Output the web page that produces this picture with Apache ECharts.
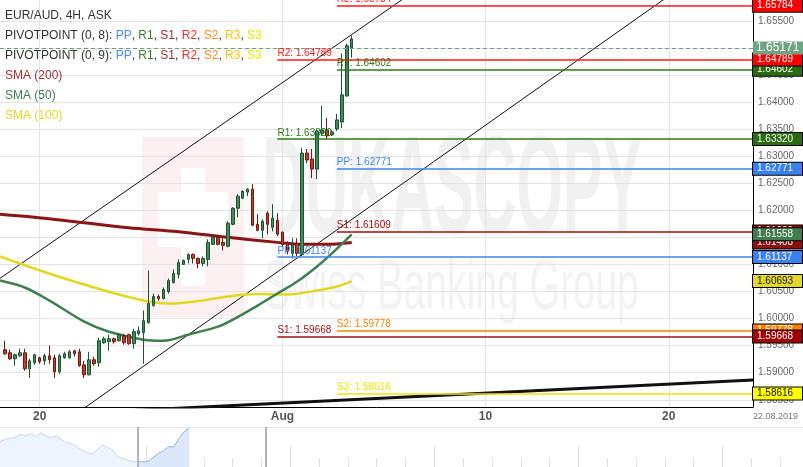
<!DOCTYPE html>
<html>
<head>
<meta charset="utf-8">
<title>EUR/AUD, 4H</title>
<script src="https://cdn.jsdelivr.net/npm/echarts@6.0.0/dist/echarts.min.js"></script>
<style>
html, body { margin: 0; padding: 0; background: #fff; }
#chart { width: 803px; height: 467px; }
</style>
</head>
<body>
<div id="chart"></div>
<script>
let fontFamily = '"Liberation Sans", Arial, sans-serif';

// 4H candles, [open, close, low, high]; first candle sits in slot 1
let candles = [
    [1.59424, 1.59350, 1.59332, 1.59591], [1.59369, 1.59257, 1.59239, 1.59424],
    [1.59257, 1.59332, 1.59128, 1.59350], [1.59313, 1.59369, 1.59295, 1.59443],
    [1.59369, 1.59072, 1.59035, 1.59443], [1.59072, 1.59220, 1.58905, 1.59257],
    [1.59183, 1.59332, 1.59146, 1.59350], [1.59276, 1.59202, 1.59165, 1.59295],
    [1.59220, 1.59313, 1.59146, 1.59350], [1.59313, 1.59239, 1.59165, 1.59499],
    [1.59276, 1.59016, 1.58905, 1.59332], [1.59016, 1.59313, 1.58979, 1.59350],
    [1.59276, 1.59350, 1.59257, 1.59387], [1.59276, 1.59387, 1.59257, 1.59424],
    [1.59406, 1.59350, 1.59295, 1.59424], [1.59387, 1.59128, 1.59109, 1.59443],
    [1.59146, 1.58961, 1.58905, 1.59220], [1.58961, 1.59239, 1.58950, 1.59387],
    [1.59239, 1.59165, 1.59128, 1.59295], [1.59183, 1.59591, 1.59109, 1.59647],
    [1.59554, 1.59628, 1.59536, 1.59666], [1.59573, 1.59628, 1.59406, 1.59703],
    [1.59628, 1.59573, 1.59536, 1.59647], [1.59591, 1.59703, 1.59573, 1.59721],
    [1.59684, 1.59554, 1.59517, 1.59721], [1.59703, 1.59536, 1.59517, 1.59721],
    [1.59536, 1.59758, 1.59443, 1.59814], [1.59721, 1.59777, 1.59684, 1.59851],
    [1.59740, 1.59962, 1.59165, 1.60148], [1.59925, 1.60278, 1.59907, 1.60890],
    [1.60241, 1.60408, 1.60222, 1.60463], [1.60408, 1.60370, 1.60333, 1.60445],
    [1.60370, 1.60537, 1.60352, 1.60575], [1.60500, 1.60704, 1.60463, 1.60742],
    [1.60667, 1.60834, 1.60649, 1.60908], [1.60816, 1.61038, 1.60742, 1.61094],
    [1.61001, 1.61075, 1.60990, 1.61094], [1.61094, 1.61187, 1.61020, 1.61205],
    [1.61187, 1.61113, 1.61020, 1.61205], [1.61113, 1.61020, 1.60927, 1.61131],
    [1.61020, 1.61113, 1.60964, 1.61150], [1.61094, 1.61409, 1.60964, 1.61465],
    [1.61372, 1.61502, 1.61360, 1.61558], [1.61502, 1.61372, 1.61354, 1.61539],
    [1.61409, 1.61354, 1.61261, 1.61484], [1.61335, 1.61762, 1.61317, 1.61799],
    [1.61743, 1.62040, 1.61725, 1.62059], [1.62040, 1.62263, 1.61873, 1.62300],
    [1.62226, 1.62355, 1.62207, 1.62374], [1.62337, 1.62393, 1.62263, 1.62411],
    [1.62393, 1.61725, 1.61706, 1.62485], [1.61743, 1.61632, 1.61613, 1.61929],
    [1.61632, 1.61799, 1.61484, 1.61836], [1.61947, 1.61743, 1.61558, 1.61984],
    [1.61688, 1.61855, 1.61613, 1.62114], [1.61817, 1.61558, 1.61521, 1.61947],
    [1.61595, 1.61372, 1.61335, 1.61613], [1.61391, 1.61242, 1.61187, 1.61428],
    [1.61205, 1.61372, 1.61113, 1.61484], [1.61391, 1.61205, 1.61150, 1.61484],
    [1.61187, 1.63060, 1.61150, 1.63153], [1.63060, 1.62931, 1.62875, 1.63135],
    [1.62949, 1.62764, 1.62597, 1.63135], [1.62764, 1.63468, 1.62578, 1.63506],
    [1.63431, 1.63487, 1.63376, 1.63932], [1.63487, 1.63376, 1.63320, 1.63710],
    [1.63394, 1.63450, 1.63376, 1.63487], [1.63506, 1.63673, 1.63468, 1.63784],
    [1.63635, 1.64136, 1.63524, 1.64897], [1.64118, 1.65045, 1.64099, 1.65082],
    [1.65008, 1.65171, 1.64823, 1.65231]
];
let firstSlot = 1;
let slotCount = 153; // 4H slots on screen, the empty future part included
let lastSlot = slotCount - 1;
let lastPrice = 1.65171;

let xTickSlots = [8, 57, 98, 135];
let xTickLabels = ['20', 'Aug', '10', '20'];
let yTicks = [1.585, 1.59, 1.595, 1.6, 1.605, 1.61, 1.615, 1.62, 1.625, 1.63, 1.635, 1.64, 1.645, 1.65, 1.655];
let yMin = 1.58366;
let yMax = 1.65889;
let dateLabel = '22.08.2019';

// pivot points, two periods
let pivotNamesA = ['R2', 'R1', 'PP', 'S1'];
let pivotValuesA = [1.64789, 1.63320, 1.61137, 1.59668];
let pivotStartA = 56;
let pivotNamesB = ['R2', 'R1', 'PP', 'S1', 'S2', 'S3'];
let pivotValuesB = [1.65784, 1.64602, 1.62771, 1.61609, 1.59778, 1.58616];
let pivotStartB = 68;

// moving averages, [slot, value]
let sma200 = [[0, 1.61929], [9, 1.61855], [17, 1.61771], [26, 1.61678], [36, 1.61604],
    [46, 1.61502], [56, 1.61409], [61, 1.61372], [66, 1.61372], [71, 1.61408]];
let sma100 = [[0, 1.61150], [9, 1.60862], [17, 1.60630], [24, 1.60445], [30, 1.60315],
    [34, 1.60278], [40, 1.60324], [46, 1.60408], [52, 1.60454], [58, 1.60445],
    [64, 1.60519], [68, 1.60593], [71, 1.60693]];
let sma50 = [[0, 1.60704], [5, 1.60575], [10, 1.60333], [17, 1.59944], [22, 1.59758],
    [29, 1.59610], [33, 1.59591], [38, 1.59703], [44, 1.59851], [47, 1.59981],
    [52, 1.60241], [56, 1.60463], [60, 1.60686], [64, 1.60964], [67, 1.61205], [71, 1.61558]];

// drawn lines, [slot, value]
let channelUpper = [[0, 1.60745], [82, 1.65948]];
let channelLower = [[17, 1.58346], [136, 1.66028]];
let trendLine = [[24, 1.58290], [152, 1.58865]];

// overview strip at the bottom
let navValues = [1.6269, 1.6323, 1.6346, 1.6368, 1.6436, 1.6398, 1.6458, 1.6382, 1.6472, 1.6398,
    1.6368, 1.6398, 1.6323, 1.6247, 1.6218, 1.6157, 1.6083, 1.6022, 1.5993, 1.6083,
    1.6195, 1.6143, 1.6083, 1.5932, 1.5896, 1.5858, 1.5819, 1.5819, 1.5819, 1.5835,
    1.5918, 1.6008, 1.6067, 1.6157, 1.6157, 1.6346, 1.6494, 1.6571];
let navSlotCount = 158;
let navWindow = [27, 52];
let navTickCount = 28;

let levelColors = {R2: '#ff1a1a', R1: '#2f7a14', PP: '#3d85f0', S1: '#a30f0f', S2: '#ff8000', S3: '#f0e600'};
let boxColors = {R2: '#ff0000', R1: '#2a6d10', PP: '#3a80f0', S1: '#a00000', S2: '#ff7f00', S3: '#ffff00'};
let boxText = {R2: '#fff', R1: '#fff', PP: '#fff', S1: '#fff', S2: '#fff', S3: '#111'};

let slots = [];
for (let i = 0; i < slotCount; i++) slots.push(String(i));
let navSlots = [];
for (let i = 0; i < navSlotCount; i++) navSlots.push(String(i));
let navTicks = [];
for (let i = 0; i < navTickCount; i++) navTicks.push(String(i));

function isTick(index) {
    return xTickSlots.indexOf(index) >= 0;
}

// coloured value box on the price axis
function priceBox(value, bg, fg) {
    return [
        {
            coord: [lastSlot - 1, value],
            lineStyle: {color: 'rgba(0,0,0,0)', width: 0},
            label: {
                show: true,
                position: 'end',
                distance: 0,
                formatter: value.toFixed(5),
                color: fg,
                backgroundColor: bg,
                borderColor: '#000',
                borderWidth: 1,
                padding: [1, 4, 0, 4],
                width: 41,
                fontSize: 10,
                lineHeight: 11,
                fontFamily: fontFamily
            }
        },
        {coord: [lastSlot, value]}
    ];
}

function pivotSeries(names, values, startSlot) {
    let data = [];
    names.forEach((name, i) => {
        let value = values[i];
        data.push([
            {
                coord: [startSlot, value],
                lineStyle: {color: levelColors[name]},
                label: {
                    show: true,
                    position: 'insideStartTop',
                    distance: [0, 1],
                    formatter: name + ': ' + value.toFixed(5),
                    color: levelColors[name],
                    fontSize: 10,
                    fontFamily: fontFamily
                }
            },
            {coord: [lastSlot, value]}
        ]);
    });
    names.forEach((name, i) => {
        data.push(priceBox(values[i], boxColors[name], boxText[name]));
    });
    return {
        type: 'line',
        z: 1,
        data: [],
        markLine: {
            symbol: 'none',
            silent: true,
            lineStyle: {type: 'solid', width: 1.5},
            data: data
        }
    };
}

function smaSeries(points, color, width, boxBg, boxFg) {
    let last = points[points.length - 1][1];
    return {
        type: 'line',
        z: 2,
        data: points,
        smooth: 0.3,
        showSymbol: false,
        lineStyle: {color: color, width: width},
        markLine: {
            symbol: 'none',
            silent: true,
            data: [priceBox(last, boxBg, boxFg)]
        }
    };
}

function drawnLine(points, width) {
    return {
        type: 'line',
        z: 2,
        data: points,
        showSymbol: false,
        lineStyle: {color: '#111', width: width}
    };
}

// legend rows top left
let legendColors = {
    t: '#333', pp: '#4a8ff0', r1: '#3b7d23', s1: '#a52a2a', r2: '#ff2a2a',
    s2: '#ff8c1a', r3: '#ffc20e', s3: '#f0e400', ma200: '#a33232', ma50: '#3d7d4d', ma100: '#e6d620'
};
let legendRich = {};
Object.keys(legendColors).forEach(key => {
    legendRich[key] = {fill: legendColors[key], color: legendColors[key], fontSize: 12, fontFamily: fontFamily};
});
let pivotText = '{pp|PP}{t|, }{r1|R1}{t|, }{s1|S1}{t|, }{r2|R2}{t|, }{s2|S2}{t|, }{r3|R3}{t|, }{s3|S3}';
let legendRows = [
    '{t|EUR/AUD, 4H, ASK}',
    '{t|PIVOTPOINT (0, 8): }' + pivotText,
    '{t|PIVOTPOINT (0, 9): }' + pivotText,
    '{ma200|SMA (200)}',
    '{ma50|SMA (50)}',
    '{ma100|SMA (100)}'
];

let graphics = [
    // watermark
    {type: 'rect', z: -1, shape: {x: 142, y: 137, width: 102, height: 180}, style: {fill: '#fdf0f1'}},
    {type: 'rect', z: -1, shape: {x: 181, y: 168, width: 24, height: 118}, style: {fill: '#fff'}},
    {type: 'rect', z: -1, shape: {x: 158, y: 192, width: 70, height: 55}, style: {fill: '#fff'}},
    {
        type: 'text', z: -1, x: 262, y: 194, scaleX: 0.425,
        style: {text: 'DUKASCOPY', fill: '#f1f1f1', fontSize: 140, fontWeight: 'bold', fontFamily: fontFamily, verticalAlign: 'middle'}
    },
    {
        type: 'text', z: -1, x: 264, y: 290, scaleX: 0.56,
        style: {text: 'Swiss Banking Group', fill: '#f3f3f3', fontSize: 70, fontFamily: fontFamily, verticalAlign: 'middle'}
    },
    {
        type: 'text', z: 10, x: 798, y: 417,
        style: {text: dateLabel, fill: '#777', fontSize: 9, fontFamily: fontFamily, align: 'right', verticalAlign: 'middle'}
    }
];
legendRows.forEach((row, i) => {
    graphics.push({
        type: 'text', z: 10, x: 5, y: 16 + i * 20,
        style: {text: row, rich: legendRich, fontSize: 12, fontFamily: fontFamily, verticalAlign: 'middle'}
    });
});

let option = {
    animation: false,
    backgroundColor: '#fff',
    grid: [
        {left: 0, right: 50, top: 0, height: 407, outerBoundsMode: 'none'},
        {left: 0, right: 0, top: 427, height: 40, outerBoundsMode: 'none'},
        {left: 2.2, width: 777.9, top: 427, height: 40, outerBoundsMode: 'none'},
        {left: 2.2, width: 777.9, top: 427, height: 40, outerBoundsMode: 'none'}
    ],
    xAxis: [
        {
            gridIndex: 0,
            type: 'category',
            data: slots,
            boundaryGap: false,
            axisLine: {onZero: false, lineStyle: {color: '#000', width: 1}},
            axisTick: {show: false},
            axisLabel: {
                interval: isTick,
                formatter: (value, index) => xTickLabels[xTickSlots.indexOf(index)] || '',
                color: '#555',
                fontSize: 12,
                fontWeight: 'bold',
                fontFamily: fontFamily,
                margin: 4
            },
            splitLine: {show: true, interval: isTick, lineStyle: {color: '#e4e4e4'}}
        },
        {
            gridIndex: 1,
            type: 'category',
            data: navSlots,
            boundaryGap: false,
            position: 'top',
            axisLine: {onZero: false, lineStyle: {color: '#e8e8e8'}},
            axisTick: {show: false},
            axisLabel: {show: false},
            splitLine: {show: false}
        },
        {
            gridIndex: 2,
            type: 'category',
            data: navTicks,
            boundaryGap: false,
            axisLine: {show: false},
            axisTick: {show: true, inside: true, length: 9, interval: i => i > 0 && i % 5 !== 0, lineStyle: {color: '#e0e0e0'}},
            axisLabel: {show: false},
            splitLine: {show: false}
        },
        {
            gridIndex: 3,
            type: 'category',
            data: navTicks,
            boundaryGap: false,
            axisLine: {show: false},
            axisTick: {show: true, inside: true, length: 21, interval: i => i > 0 && i % 5 === 0, lineStyle: {color: '#e0e0e0'}},
            axisLabel: {show: false},
            splitLine: {show: false}
        }
    ],
    yAxis: [
        {
            gridIndex: 0,
            type: 'value',
            position: 'right',
            min: yMin,
            max: yMax,
            axisLine: {show: true, lineStyle: {color: '#000', width: 1}},
            axisTick: {show: false, customValues: yTicks},
            axisLabel: {
                customValues: yTicks,
                formatter: v => v.toFixed(5),
                color: '#666',
                fontSize: 10,
                fontFamily: fontFamily,
                margin: 5
            },
            splitLine: {show: true, lineStyle: {color: '#e4e4e4'}}
        },
        {gridIndex: 1, type: 'value', min: 1.57, max: 1.66, show: false},
        {gridIndex: 2, type: 'value', show: false},
        {gridIndex: 3, type: 'value', show: false}
    ],
    graphic: graphics,
    series: [
        pivotSeries(pivotNamesB, pivotValuesB, pivotStartB),
        pivotSeries(pivotNamesA, pivotValuesA, pivotStartA),
        drawnLine(channelUpper, 1),
        drawnLine(channelLower, 1),
        drawnLine(trendLine, 3),
        smaSeries(sma200, '#8b1414', 3, '#8b1010', '#fff'),
        smaSeries(sma100, '#e2d81f', 2.5, '#e3d82a', '#222'),
        smaSeries(sma50, '#3f7f4f', 2.5, '#3f7d4c', '#fff'),
        {
            type: 'candlestick',
            z: 3,
            barWidth: 3,
            data: candles.map((c, k) => [k + firstSlot].concat(c)),
            encode: {x: 0, y: [1, 2, 3, 4]},
            itemStyle: {
                color: '#3f8c5c',
                color0: '#c23b2c',
                borderColor: '#1f5232',
                borderColor0: '#701a12',
                borderWidth: 1
            },
            markLine: {
                symbol: 'none',
                silent: true,
                data: [{
                    yAxis: lastPrice,
                    lineStyle: {color: '#6b9e79', type: [4, 3], width: 1},
                    label: {
                        show: true,
                        position: 'end',
                        distance: 0,
                        formatter: lastPrice.toFixed(5),
                        color: '#fff',
                        backgroundColor: '#6fa482',
                        padding: [1, 3, 0, 3],
                        width: 44,
                        fontSize: 12,
                        lineHeight: 12,
                        fontFamily: fontFamily
                    }
                }]
            }
        },
        {
            type: 'line',
            xAxisIndex: 1,
            yAxisIndex: 1,
            data: navValues,
            showSymbol: false,
            lineStyle: {color: '#c4d6f2', width: 1},
            areaStyle: {color: '#eef4fd', opacity: 1},
            markLine: {
                symbol: 'none',
                silent: true,
                label: {show: false},
                lineStyle: {color: '#b3b3b3', width: 2, type: 'solid'},
                data: [{xAxis: navWindow[0]}, {xAxis: navWindow[1]}]
            }
        },
        {
            type: 'line',
            xAxisIndex: 1,
            yAxisIndex: 1,
            data: navValues.map((v, i) => (i >= navWindow[0] ? v : '-')),
            showSymbol: false,
            lineStyle: {color: '#9dbbec', width: 1},
            areaStyle: {color: '#dce8fa', opacity: 1}
        }
    ]
};

let myChart = echarts.init(document.getElementById('chart'));
myChart.setOption(option);
</script>
</body>
</html>
